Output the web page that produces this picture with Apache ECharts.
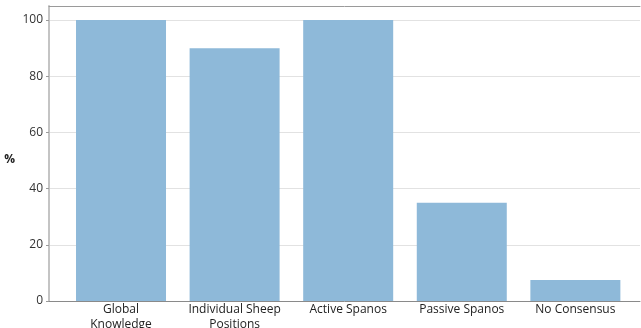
<!DOCTYPE html>
<html>
<head>
<meta charset="utf-8">
<script src="https://cdn.jsdelivr.net/npm/echarts@6/dist/echarts.min.js"></script>
<style>
  html, body { margin: 0; padding: 0; background: #fff; }
  #chart { width: 641px; height: 328px; }
</style>
</head>
<body>
<div id="chart"></div>
<script>
// Consensus outcome by scenario (percent)
const categories = ['Global\nKnowledge', 'Individual Sheep\nPositions', 'Active Spanos', 'Passive Spanos', 'No Consensus'];
const percentValues = [100, 90, 100, 35, 7.5];
const yTicks = [0, 20, 40, 60, 80, 100];

const FONT = '"Open Sans", "Noto Sans", sans-serif';

const chart = echarts.init(document.getElementById('chart'), null, { renderer: 'canvas' });

chart.setOption({
  animation: false,
  grid: { left: 49, right: 1, top: 6, bottom: 27 },
  xAxis: [
    {
      type: 'value',
      min: -0.634,
      max: 4.569,
      axisLine: { show: true, onZero: false, lineStyle: { color: '#8a8a8a', width: 1 } },
      axisTick: { show: false },
      axisLabel: { show: false },
      splitLine: { show: false }
    },
    {
      type: 'value',
      position: 'top',
      min: -0.634,
      max: 4.569,
      axisLine: { show: true, onZero: false, lineStyle: { color: '#9a9a9a', width: 1 } },
      axisTick: { show: false },
      axisLabel: { show: false },
      splitLine: { show: false }
    }
  ],
  yAxis: {
    type: 'value',
    min: 0,
    max: 105,
    interval: 20,
    name: '%',
    nameLocation: 'middle',
    nameRotate: 0,
    nameGap: 34,
    nameTextStyle: { color: '#222', fontSize: 12, fontWeight: 'bold', fontFamily: FONT, verticalAlign: 'top' },
    axisLine: { show: true, onZero: false, lineStyle: { color: '#c4c4c4', width: 2 } },
    axisTick: { show: true, length: 3, customValues: yTicks, lineStyle: { color: '#9a9a9a' } },
    axisLabel: { customValues: yTicks, color: '#333', fontSize: 12, fontFamily: FONT, margin: 6 },
    splitLine: { show: true, lineStyle: { color: '#e2e2e2', width: 1 } }
  },
  series: [{
    type: 'bar',
    barWidth: 90,
    itemStyle: { color: '#8eb9d9' },
    data: percentValues.map((v, i) => [i, v]),
    label: {
      show: true,
      position: 'bottom',
      distance: 1,
      color: '#222',
      fontSize: 12,
      lineHeight: 15,
      fontFamily: FONT,
      align: 'center',
      formatter: p => categories[p.dataIndex]
    }
  }]
});
</script>
</body>
</html>
